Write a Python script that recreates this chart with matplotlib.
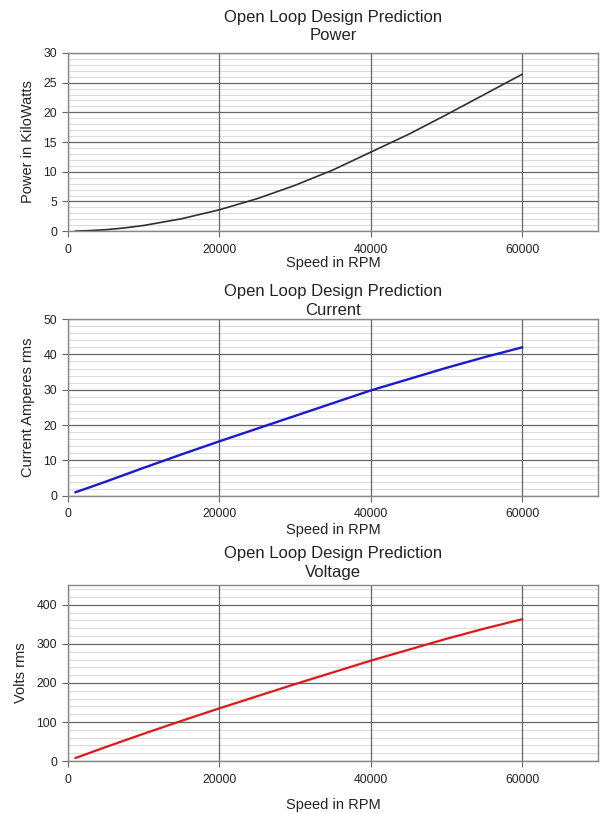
import numpy as np
import matplotlib
matplotlib.use('Agg')
import matplotlib.pyplot as plt
from matplotlib.ticker import MultipleLocator

plt.rcParams['font.family'] = ['Liberation Sans', 'DejaVu Sans']

# speed samples
speed = [1000, 2500, 5000, 7500, 10000, 15000, 20000, 25000, 30000, 35000,
         40000, 45000, 50000, 55000, 60000]
# power in kW
power = [0.014, 0.08, 0.25, 0.55, 0.96, 2.09, 3.6, 5.47, 7.72, 10.3,
         13.3, 16.3, 19.6, 23.0, 26.4]
# current A rms
current = [1.0, 2.1, 4.0, 5.95, 7.9, 11.7, 15.4, 19.0, 22.6, 26.2,
           29.8, 33.0, 36.2, 39.2, 42.0]
# voltage V rms
voltage = [8, 18.5, 36, 53, 70, 103, 135, 166, 197, 227,
           257, 285, 313, 339, 363]

xticks = [0, 20000, 40000, 60000]
title_top = 'Open Loop Design Prediction'
panels = [
    # name, values, ylabel, color, lw, ylim, major, minor, axes rect, title pad, xlabel pad
    ('Power', power, 'Power in KiloWatts', '#303030', 1.2, 30, 5, 1,
     [0.113, 0.716, 0.880, 0.219], 9, 0),
    ('Current', current, 'Current Amperes rms', '#1a1ad0', 1.7, 50, 10, 2,
     [0.113, 0.391, 0.880, 0.217], 3, 2),
    ('Voltage', voltage, 'Volts rms', '#e01818', 1.6, 450, 100, 20,
     [0.113, 0.065, 0.880, 0.216], 6, 9),
]

fig = plt.figure(figsize=(6.02, 8.14), dpi=100)
txt = '#222222'

for name, vals, ylab, col, lw, ytop, major, minor, rect, tpad, xpad in panels:
    ax = fig.add_axes(rect)
    ax.set_xlim(0, 70000)
    ax.set_ylim(0, ytop)
    ax.set_xticks(xticks)
    ax.yaxis.set_major_locator(MultipleLocator(major))
    ax.yaxis.set_minor_locator(MultipleLocator(minor))
    ax.grid(True, which='minor', axis='y', color='#dcdcdc', lw=0.8)
    ax.grid(True, which='major', axis='both', color='#666666', lw=0.9)
    ax.set_axisbelow(True)
    # vertical grid over the light horizontal lines
    ax.xaxis.set_zorder(0.6)
    ax.plot(speed, vals, color=col, lw=lw)
    for s in ax.spines.values():
        s.set_color('#888888')
        s.set_linewidth(1.0)
    ax.tick_params(axis='both', which='major', length=4, color='#666666',
                   labelsize=8.8, labelcolor=txt, pad=4)
    ax.tick_params(axis='x', which='major', pad=5)
    ax.tick_params(axis='y', which='minor', length=0)
    ax.set_xlabel('Speed in RPM', fontsize=10.5, color=txt, labelpad=xpad)
    ax.set_ylabel(ylab, fontsize=10.5, color=txt, labelpad=6)
    ax.set_title(title_top + '\n' + name, fontsize=12, color=txt,
                 pad=tpad, linespacing=1.3)

fig.savefig('out.png', dpi=100)
